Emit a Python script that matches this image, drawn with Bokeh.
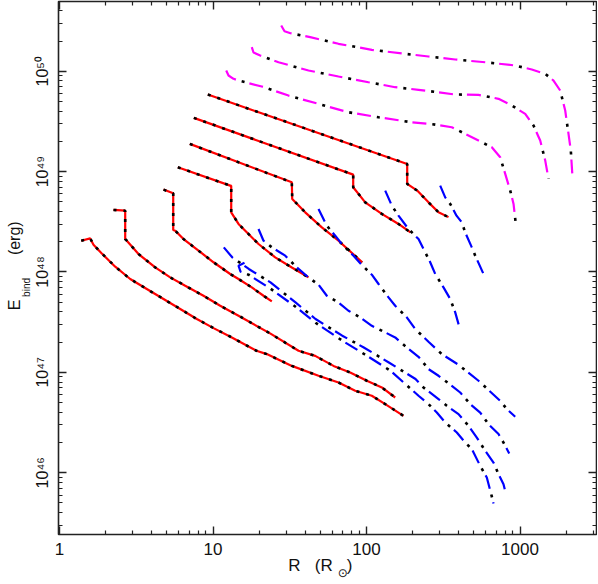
from bokeh.plotting import figure
from bokeh.models import LogAxis, FixedTicker, Range1d, CustomJSTickFormatter
from bokeh.embed import file_html
from bokeh.resources import INLINE

# ---------------- data (R in R_sun, E_bind in erg) ----------------
# red tracks (solid), drawn with black dotted overlay
red_R1 = [1.385, 1.585, 1.665, 1.886, 2.307, 2.888, 3.704, 4.759, 6.114, 7.845, 10.08, 13.26, 19.20, 22.41, 32.62, 48.67, 65.70, 84.4, 108.3, 132.4, 174.2]
red_E1 = [2.05e48, 2.16e48, 1.87e48, 1.53e48, 1.13e48, 8.51e47, 6.77e47, 5.38e47, 4.28e47, 3.40e47, 2.76e47, 2.23e47, 1.64e47, 1.52e47, 1.16e47, 9.25e46, 7.93e46, 6.56e46, 5.85e46, 4.83e46, 3.69e46]

red_R2 = [2.247, 2.679, 2.679, 2.744, 3.271, 4.203, 5.262, 6.59, 8.67, 11.14, 14.66, 23.69, 36.06, 46.32, 60.95, 78.3, 100.5, 125.8, 153.8]
red_E2 = [4.15e48, 4.08e48, 2.13e48, 2.05e48, 1.51e48, 1.11e48, 8.84e47, 7.30e47, 5.80e47, 4.61e47, 3.67e47, 2.43e47, 1.64e47, 1.46e47, 1.16e47, 9.98e46, 8.25e46, 7.07e46, 5.62e46]

red_R3 = [4.759, 5.505, 5.505, 5.672, 6.425, 8.045, 10.08, 12.94, 14.66, 17.89, 21.33, 24.16]
red_E3 = [6.62e48, 6.08e48, 2.62e48, 2.58e48, 2.13e48, 1.63e48, 1.25e48, 9.55e47, 8.51e47, 7.02e47, 5.80e47, 5.09e47]

red_R4 = [5.897, 12.94, 13.14, 13.14, 14.66, 19.79, 25.42, 32.62, 41.9]
red_E4 = [1.104e49, 7.25e48, 7.25e48, 3.93e48, 3.01e48, 1.90e48, 1.40e48, 1.11e48, 8.84e47]

red_R5 = [7.06, 14.66, 32.62, 32.81, 39.87, 51.15, 65.70, 93.8]
red_E5 = [1.889e49, 1.238e49, 7.82e48, 5.34e48, 3.93e48, 2.78e48, 2.05e48, 1.246e48]

red_R6 = [7.50, 81.9, 81.9, 98.1, 125.8, 161.6, 193.5]
red_E6 = [3.43e49, 9.33e48, 6.98e48, 4.94e48, 3.79e48, 3.01e48, 2.48e48]

red_R7 = [9.25, 184.1, 184.1, 213.9, 253.4, 294.5, 342.1]
red_E7 = [5.86e49, 1.193e49, 7.54e48, 6.47e48, 4.94e48, 3.93e48, 3.52e48]

# magenta tracks (dashed) with black dash-dot overlay
mag_R1 = [27.82, 29.23, 31.98, 42.98, 65.70, 108.3, 178.7, 253.4, 378.4, 593.3, 930.4, 1193, 1460, 1653, 1828, 1970, 2070, 2143, 2198]
mag_E1 = [2.855e50, 2.505e50, 2.392e50, 2.183e50, 1.876e50, 1.634e50, 1.491e50, 1.402e50, 1.308e50, 1.229e50, 1.140e50, 1.040e50, 9.42e49, 8.08e49, 6.42e49, 4.06e49, 2.376e49, 1.62e49, 8.77e48]

mag_R2 = [17.89, 18.36, 20.30, 26.71, 41.9, 65.70, 103.0, 153.8, 218.2, 294.5, 378.4, 536.6, 724.4, 884.5, 1081, 1225, 1354, 1460, 1533]
mag_E2 = [1.735e50, 1.536e50, 1.434e50, 1.229e50, 1.016e50, 8.86e49, 7.77e49, 6.93e49, 6.53e49, 6.17e49, 5.86e49, 5.82e49, 5.31e49, 4.55e49, 3.76e49, 2.875e49, 2.038e49, 1.288e49, 8.51e48]

mag_R3 = [12.19, 12.62, 13.60, 14.66, 20.79, 31.03, 48.67, 76.3, 119.8, 197.3, 280.3, 359.5, 439.5, 536.6, 655.1, 743.0, 801.1, 863.8, 907.6, 939.1]
mag_E3 = [1.016e50, 9.06e49, 8.40e49, 8.08e49, 7.04e49, 5.72e49, 4.73e49, 3.90e49, 3.48e49, 3.10e49, 2.94e49, 2.765e49, 2.376e49, 2.038e49, 1.747e49, 1.389e49, 9.49e48, 6.47e48, 4.76e48, 3.01e48]

# blue tracks (long dashed) with black dash-dot overlay
blu_R1 = [16.04, 14.66, 15.11, 17.03, 23.69, 34.47, 46.54, 69.48, 96.0, 143.3, 218.2, 253.4, 287.1, 325.6, 387.6, 439.5, 485.3, 550.4, 607.7, 649.3, 672.0]
blu_E1 = [1.238e48, 1.156e48, 1.007e48, 9.40e47, 6.82e47, 4.51e47, 3.12e47, 2.07e47, 1.532e47, 1.038e47, 5.85e46, 4.83e46, 3.98e46, 3.17e46, 2.52e46, 2.00e46, 1.72e46, 1.172e46, 8.96e45, 6.12e45, 4.93e45]

blu_R2 = [11.76, 13.34, 17.11, 23.69, 34.47, 46.54, 69.48, 96.0, 139.8, 208.6, 235.1, 294.5, 333.5, 397.5, 461.8, 523.1, 593.3, 672.0, 724.4, 780.7, 808.3]
blu_E2 = [1.76e48, 1.40e48, 1.072e48, 7.87e47, 4.97e47, 3.40e47, 2.32e47, 1.77e47, 1.255e47, 8.58e46, 7.07e46, 5.42e46, 4.65e46, 3.84e46, 2.93e46, 2.24e46, 1.653e46, 1.264e46, 9.68e45, 7.70e45, 6.20e45]

blu_R3 = [19.79, 21.33, 24.16, 29.54, 35.15, 41.9, 48.67, 55.12, 65.7, 76.3, 90.99, 108.3, 132.4, 153.8, 183.0, 218.2, 253.4, 294.5, 359.5, 407.8, 473.8, 550.4, 623.4, 724.4, 780.7, 850.7]
blu_E3 = [2.68e48, 2.05e48, 1.76e48, 1.454e48, 1.11e48, 8.84e47, 7.47e47, 5.80e47, 4.97e47, 4.11e47, 3.53e47, 2.91e47, 2.50e47, 2.23e47, 1.77e47, 1.43e47, 1.079e47, 9.25e46, 7.35e46, 6.30e46, 4.83e46, 3.98e46, 3.05e46, 2.43e46, 2.00e46, 1.554e46]

blu_R4 = [48.67, 55.12, 62.55, 69.07, 82.3, 94.2, 108.3, 119.8, 139.1, 153.8, 183.0, 207.6, 253.4, 309.5, 397.5, 536.6, 743.0, 820.4, 930.4]
blu_E4 = [4.25e48, 2.89e48, 2.30e48, 1.90e48, 1.454e48, 1.156e48, 9.40e47, 7.59e47, 5.58e47, 4.61e47, 3.53e47, 2.70e47, 2.02e47, 1.52e47, 1.19e47, 8.25e46, 5.21e46, 4.31e46, 3.61e46]

blu_R5 = [132.4, 146.2, 161.6, 187.7, 218.2, 235.1, 260.0, 280.3, 317.4, 351.0, 378.4, 400.5]
blu_E5 = [6.47e48, 4.58e48, 3.64e48, 2.68e48, 2.13e48, 1.696e48, 1.25e48, 9.55e47, 7.02e47, 5.38e47, 3.96e47, 2.91e47]

blu_R6 = [302.0, 325.6, 351.0, 385.8, 417.7, 439.5, 485.3, 510.8, 578.3]
blu_E6 = [7.25e48, 5.54e48, 4.76e48, 3.64e48, 3.12e48, 2.48e48, 1.76e48, 1.454e48, 9.55e47]

x_major = [1, 10, 100, 1000]
x_labels = ["1", "10", "100", "1000"]
y_major = [1e46, 1e47, 1e48, 1e49, 1e50]
y_labels = ["10\u2074\u2076", "10\u2074\u2077", "10\u2074\u2078", "10\u2074\u2079", "10\u2075\u2070"]

x_minor = [m * d for d in (1, 10, 100) for m in range(2, 10)] + [2000, 3000]
y_minor = [m * 10.0 ** k for k in range(45, 51) for m in range(2, 10)]

NB = "\u00a0"
x_title = "R" + NB * 3 + "(R" + NB * 3 + ")" + NB * 3
x_title_sub = NB * 8 + "\u2299"
y_title = NB + "E" + NB * 10 + "(erg)"
y_title_sub = "bind" + NB * 14

# ---------------- figure ----------------
p = figure(width=597, height=583, x_axis_type="log", y_axis_type="log",
           x_range=Range1d(0.985, 3150), y_range=Range1d(2.426e45, 4.95e50),
           output_backend="svg", toolbar_location=None,
           min_border_left=58, min_border_right=1, min_border_top=1, min_border_bottom=49)
p.background_fill_color = "white"
p.border_fill_color = "white"
p.outline_line_color = "#222222"
p.outline_line_width = 1.6
p.xgrid.visible = False
p.ygrid.visible = False

FONT = "Liberation Sans"
xt = FixedTicker(ticks=x_major, minor_ticks=x_minor)
yt = FixedTicker(ticks=y_major, minor_ticks=y_minor)
no_ticks = FixedTicker(ticks=[], minor_ticks=[])


def style_axis(ax, labels=True, size="17px"):
    ax.axis_line_color = None
    ax.major_tick_in = 8
    ax.major_tick_out = 0
    ax.minor_tick_in = 4
    ax.minor_tick_out = 0
    ax.major_tick_line_color = "#222222"
    ax.minor_tick_line_color = "#222222"
    ax.major_tick_line_width = 1.4
    ax.minor_tick_line_width = 1.2
    if labels:
        ax.major_label_text_font = FONT
        ax.major_label_text_font_size = size
        ax.major_label_text_color = "#111111"
    else:
        ax.formatter = CustomJSTickFormatter(code="return ''")
        ax.major_label_text_font_size = "0px"
        ax.major_label_standoff = 0


def title_axis(text, size, standoff, font=FONT):
    ax = LogAxis(ticker=no_ticks)
    style_axis(ax, labels=False)
    ax.major_tick_line_color = None
    ax.minor_tick_line_color = None
    ax.axis_label = text
    ax.axis_label_text_font = font
    ax.axis_label_text_font_size = size
    ax.axis_label_text_font_style = "normal"
    ax.axis_label_text_color = "#111111"
    ax.axis_label_standoff = standoff
    return ax


p.xaxis.ticker = xt
p.yaxis.ticker = yt
style_axis(p.xaxis[0], size="17px")
style_axis(p.yaxis[0], size="16px")
p.xaxis.major_label_overrides = dict(zip(x_major, x_labels))
p.yaxis.major_label_overrides = dict(zip(y_major, y_labels))
p.xaxis.major_label_standoff = 8
p.yaxis.major_label_standoff = 7
p.yaxis.major_label_orientation = "vertical"

# axis titles (main text on the tick axes / subscripts on helper axes)
p.xaxis.axis_label = x_title
p.xaxis.axis_label_text_font = FONT
p.xaxis.axis_label_text_font_size = "17px"
p.xaxis.axis_label_text_font_style = "normal"
p.xaxis.axis_label_text_color = "#111111"
p.xaxis.axis_label_standoff = -2

p.yaxis.axis_label = y_title_sub
p.yaxis.axis_label_text_font = FONT
p.yaxis.axis_label_text_font_size = "10px"
p.yaxis.axis_label_text_font_style = "normal"
p.yaxis.axis_label_text_color = "#111111"
p.yaxis.axis_label_standoff = 0

p.add_layout(title_axis(x_title_sub, "12px", -12, font="DejaVu Sans"), "below")
p.add_layout(title_axis(y_title, "16px", -5), "left")

rax = LogAxis(ticker=yt)
style_axis(rax, labels=False)
p.add_layout(rax, "right")
tax = LogAxis(ticker=xt)
style_axis(tax, labels=False)
p.add_layout(tax, "above")

# ---------------- tracks ----------------
reds = [(red_R1, red_E1), (red_R2, red_E2), (red_R3, red_E3), (red_R4, red_E4),
        (red_R5, red_E5), (red_R6, red_E6), (red_R7, red_E7)]
mags = [(mag_R1, mag_E1), (mag_R2, mag_E2), (mag_R3, mag_E3)]
blus = [(blu_R1, blu_E1), (blu_R2, blu_E2), (blu_R3, blu_E3), (blu_R4, blu_E4),
        (blu_R5, blu_E5), (blu_R6, blu_E6)]

for r, e in reds:
    p.line(r, e, line_color="#ff0000", line_width=2.2)
    p.line(r, e, line_color="black", line_width=2.6, line_dash="3 7")

for tracks, col in ((mags, "#ff00ff"), (blus, "#0000ff")):
    for r, e in tracks:
        p.line(r, e, line_color=col, line_width=2.2, line_dash="14 14")
        p.line(r, e, line_color="black", line_width=2.6, line_dash="3 25", line_dash_offset=8)

open("out.html", "w").write(file_html(p, INLINE))
